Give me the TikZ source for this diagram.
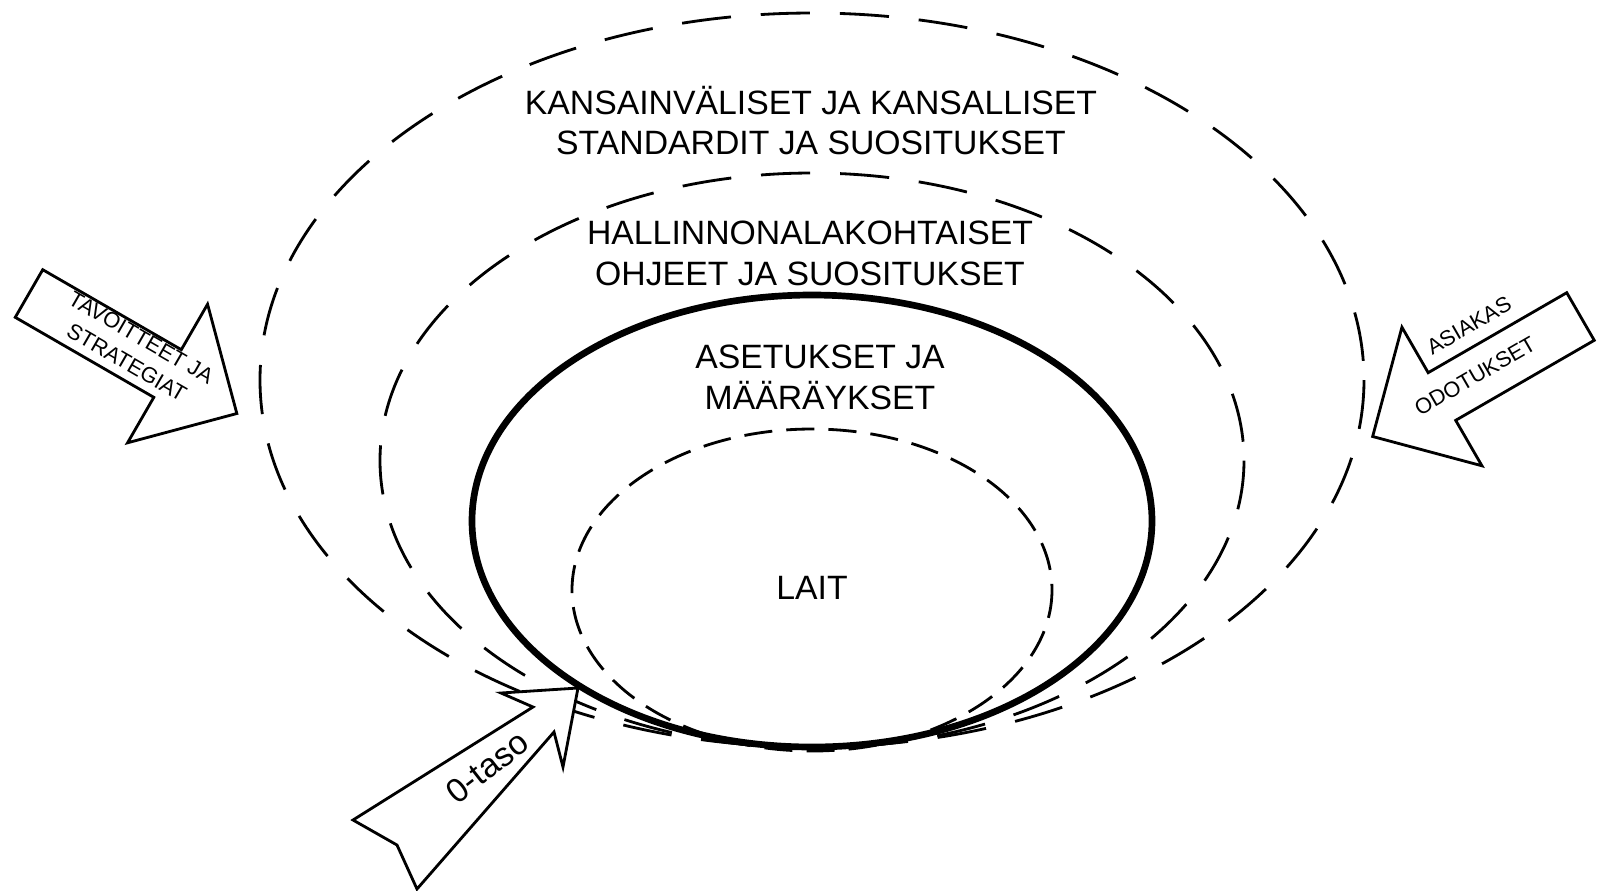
\documentclass[tikz,border=0pt]{standalone}
\usepackage{fontspec}
\setmainfont{Liberation Sans}

\begin{document}
\begin{tikzpicture}[x=0.01cm,y=-0.01cm,
		raja/.style={line width=0.8pt,dash pattern=on 14pt off 8.5pt},
		lakiraja/.style={line width=0.8pt,dash pattern=on 8pt off 4pt},
		asetusraja/.style={line width=1.9pt},
		nuoli/.style={line width=0.8pt,fill=white,line join=miter},
		otsikko/.style={align=center,inner sep=0pt,font=\fontsize{9.6}{11.5}\selectfont},
		pieni/.style={align=center,inner sep=0pt,font=\fontsize{6.2}{8.2}\selectfont}]
			\useasboundingbox (0,0) rectangle (1602,890);
			\clip (0,0) rectangle (1602,890);
			\coordinate (U) at (812,380);
			\coordinate (H) at (812,460.5);
			\coordinate (A) at (812,521);
			\coordinate (L) at (812,590);
			\draw[raja] (U) ellipse [x radius=552,y radius=367];
			\draw[raja] (H) ellipse [x radius=432,y radius=287.5];
			\draw[lakiraja] (L) ellipse [x radius=240,y radius=161];
			\draw[asetusraja] (A) ellipse [x radius=340,y radius=226];
			\node[otsikko] (kansain) at (811,120.5) {KANSAINVÄLISET JA KANSALLISET\\STANDARDIT JA SUOSITUKSET};
			\node[otsikko] (hallinto) at (810,253.5) {HALLINNONALAKOHTAISET\\OHJEET JA SUOSITUKSET};
			\node[otsikko] (asetus) at (820,377.5) {ASETUKSET JA\\MÄÄRÄYKSET};
			\node[otsikko] (lait) at (812,588) {LAIT};
			\begin{scope}[shift={(29,293.5)},rotate=-30]
				\draw[nuoli] (0,-27.5) -- (160,-27.5) -- (160,-80) -- (240,0) -- (160,80) -- (160,27.5) -- (0,27.5) -- cycle;
			\end{scope}
			\begin{scope}[shift={(1580.5,316.5)},rotate=210]
				\draw[nuoli] (0,-27.5) -- (160,-27.5) -- (160,-80) -- (240,0) -- (160,80) -- (160,27.5) -- (0,27.5) -- cycle;
			\end{scope}
			\draw[nuoli] (578,688) -- (501,693) -- (533,707) -- (353,820) -- (397,845) -- (417,889) -- (554,732) -- (563,767) -- cycle;
			\node[pieni,rotate=-30] (tavoite) at (134,350) {TAVOITTEET JA\\STRATEGIAT};
			\node[pieni,rotate=30] (asiakas) at (1469,325.5) {ASIAKAS};
			\node[pieni,rotate=30] (odotus) at (1475,376) {ODOTUKSET};
			\node[otsikko,rotate=38] (taso) at (487,767) {0-taso};
		\end{tikzpicture}
\end{document}
